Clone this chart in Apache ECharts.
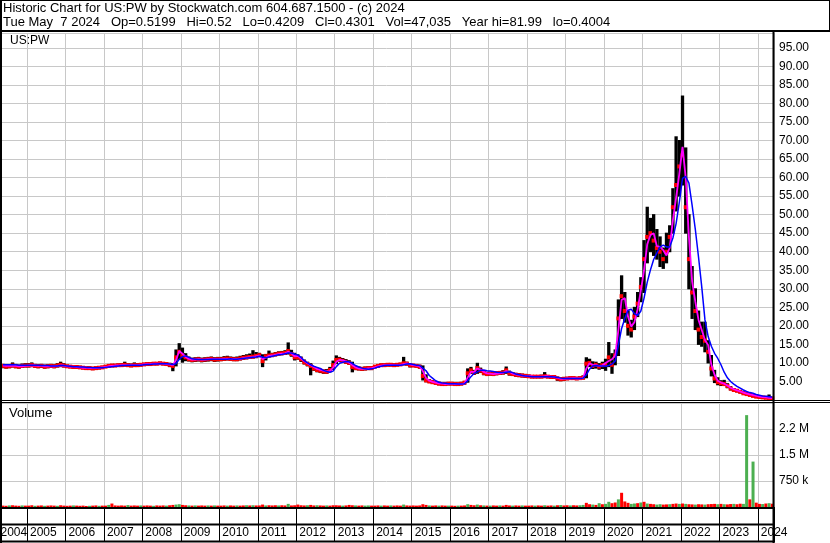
<!DOCTYPE html>
<html>
<head>
<meta charset="utf-8">
<title>US:PW historic chart</title>
<script src="https://cdn.jsdelivr.net/npm/echarts@6/dist/echarts.min.js"></script>
<style>
  html, body { margin: 0; padding: 0; background: #fff; }
  #chart { width: 830px; height: 543px; }
</style>
</head>
<body>
<div id="chart"></div>
<script>
// monthly bars, first month is May 2004
const firstYear = 2004, firstMonth = 5

const closes = [
  9.2, 9.0, 9.1, 9.3, 9.1, 9.0, 9.2, 9.3,                         // 2004
  9.3, 9.4, 9.2, 9.1, 9.2, 9.0, 9.1, 9.2, 9.1, 9.3, 9.5, 9.3,     // 2005
  9.1, 9.0, 8.9, 8.9, 8.8, 8.7, 8.6, 8.6, 8.5, 8.6, 8.7, 8.8,     // 2006
  9.0, 9.2, 9.3, 9.3, 9.4, 9.4, 9.5, 9.4, 9.3, 9.4, 9.4, 9.5,     // 2007
  9.6, 9.7, 9.7, 9.8, 9.8, 9.9, 9.8, 9.7, 9.5, 9.2, 11.5, 13.0,   // 2008
  12.0, 11.5, 11.0, 10.8, 10.9, 11.0, 10.8, 10.9, 11.0, 11.1, 10.9, 11.0, // 2009
  11.0, 11.1, 11.2, 11.1, 11.0, 11.0, 11.2, 11.4, 11.5, 11.6, 11.7, 11.9, // 2010
  12.1, 10.5, 11.8, 12.0, 12.1, 12.3, 12.5, 12.6, 12.7, 13.2, 12.4, 11.5, // 2011
  11.5, 11.0, 10.2, 9.7, 9.2, 8.5, 8.1, 7.9, 7.7, 7.6, 8.1, 9.4,  // 2012
  10.8, 10.9, 10.6, 10.3, 10.0, 8.9, 8.6, 8.5, 8.4, 8.5, 8.6, 8.6, // 2013
  9.0, 9.2, 9.4, 9.4, 9.5, 9.5, 9.4, 9.5, 9.6, 9.9, 9.8, 9.4,     // 2014
  9.3, 9.2, 9.0, 6.5, 5.3, 5.0, 4.8, 4.6, 4.4, 4.3, 4.3, 4.4,     // 2015
  4.4, 4.3, 4.3, 4.4, 4.7, 7.2, 8.0, 7.4, 8.6, 7.9, 7.3, 7.0,     // 2016
  7.1, 7.0, 7.2, 7.3, 7.4, 8.0, 7.2, 7.0, 6.8, 6.7, 6.6, 6.5,     // 2017
  6.4, 6.3, 6.3, 6.3, 6.3, 6.4, 6.3, 6.2, 6.2, 5.8, 5.6, 5.7,     // 2018
  5.8, 5.9, 5.9, 5.8, 5.9, 6.0, 9.8, 10.0, 9.2, 9.5, 9.0, 9.4,    // 2019
  9.5, 11.5, 9.5, 12.0, 22.0, 28.0, 24.0, 20.0, 19.0, 22.5, 26.0, 30.5, // 2020
  38, 44, 45, 43, 41, 40, 38, 40, 44, 52, 58, 63,                 // 2021
  66, 52, 38, 29, 24, 19, 17, 16, 13, 8.5, 5.8, 4.8,              // 2022
  4.5, 4.3, 3.8, 3.1, 2.7, 2.5, 2.2, 1.8, 1.6, 1.35, 1.1, 0.9,    // 2023
  0.8, 0.7, 0.6, 0.55, 0.43                                       // 2024
]

const highs = [
  9.6, 9.5, 9.5, 10.0, 9.6, 9.4, 9.7, 9.8,
  9.8, 10.0, 9.6, 9.5, 9.6, 9.4, 9.5, 9.6, 9.5, 9.8, 10.2, 9.8,
  9.4, 9.3, 9.2, 9.2, 9.1, 9.0, 8.9, 8.9, 8.8, 8.9, 9.0, 9.1,
  9.3, 9.5, 9.6, 9.6, 9.7, 9.8, 10.2, 9.8, 9.7, 10.0, 9.8, 9.8,
  9.9, 10.0, 10.0, 10.1, 10.1, 10.2, 10.1, 10.0, 9.9, 9.8, 13.5, 15.2,
  14.0, 12.5, 11.6, 11.3, 11.4, 11.5, 11.3, 11.4, 11.5, 11.6, 11.4, 11.5,
  11.5, 11.7, 11.8, 11.6, 11.5, 11.6, 11.8, 12.0, 12.2, 12.4, 13.3, 12.8,
  12.6, 12.2, 12.3, 13.2, 12.6, 12.8, 13.0, 13.1, 13.3, 15.4, 13.4, 12.6,
  12.2, 11.6, 10.8, 10.2, 9.8, 9.0, 8.6, 8.3, 8.1, 8.2, 8.8, 10.5,
  11.9, 11.5, 11.2, 10.9, 10.6, 10.2, 9.0, 8.9, 8.8, 8.9, 9.0, 9.0,
  9.3, 9.5, 9.7, 9.7, 9.8, 9.8, 9.7, 9.8, 9.9, 11.5, 10.2, 9.8,
  9.6, 9.5, 9.4, 9.2, 6.8, 5.5, 5.2, 5.0, 4.8, 4.6, 4.6, 4.7,
  4.6, 4.5, 4.5, 4.6, 5.0, 8.4, 8.8, 8.0, 9.9, 8.6, 7.8, 7.5,
  7.5, 7.4, 7.6, 7.7, 7.9, 8.9, 7.8, 7.4, 7.2, 7.1, 7.0, 6.9,
  6.7, 6.6, 6.6, 6.6, 6.7, 7.4, 6.6, 6.5, 6.5, 6.2, 6.0, 6.1,
  6.1, 6.2, 6.2, 6.1, 6.2, 6.5, 11.4, 11.0, 10.3, 10.2, 9.8, 10.2,
  11.0, 15.5, 12.5, 13.5, 27.0, 33.5, 29.0, 24.0, 21.5, 25.0, 29.0, 33.0,
  43, 52, 49, 50, 46, 44, 41, 45, 47, 57, 71, 70,
  82, 68, 50, 36, 30, 24, 21, 21, 16, 12, 8, 6,
  5.2, 5.3, 4.4, 3.6, 3.1, 2.8, 2.5, 2.2, 1.9, 1.6, 1.4, 1.2,
  1.0, 0.9, 0.8, 1.35, 0.6
]

const lows = [
  8.7, 8.6, 8.7, 8.9, 8.7, 8.6, 8.8, 8.9,
  8.9, 9.0, 8.8, 8.7, 8.8, 8.6, 8.7, 8.8, 8.7, 8.9, 9.0, 8.9,
  8.8, 8.7, 8.6, 8.6, 8.5, 8.4, 8.3, 8.3, 8.2, 8.3, 8.4, 8.5,
  8.8, 8.9, 9.0, 9.0, 9.1, 9.1, 9.2, 9.1, 9.0, 9.1, 9.1, 9.2,
  9.3, 9.4, 9.4, 9.5, 9.5, 9.6, 9.5, 9.4, 9.0, 7.9, 9.2, 11.0,
  10.2, 10.6, 10.5, 10.3, 10.4, 10.5, 10.3, 10.4, 10.5, 10.6, 10.4, 10.5,
  10.6, 10.7, 10.8, 10.7, 10.6, 10.6, 10.8, 11.0, 11.1, 11.2, 11.3, 11.4,
  11.7, 9.0, 10.8, 11.6, 11.7, 11.9, 12.1, 12.2, 12.3, 12.4, 11.8, 10.8,
  11.0, 10.4, 9.7, 9.2, 6.8, 8.0, 7.6, 7.4, 7.2, 7.2, 7.6, 8.2,
  9.8, 10.4, 10.2, 9.9, 9.6, 7.6, 8.2, 8.1, 8.0, 8.1, 8.2, 8.2,
  8.7, 8.9, 9.1, 9.1, 9.2, 9.2, 9.1, 9.2, 9.3, 9.5, 9.4, 8.9,
  9.0, 8.9, 8.6, 5.4, 4.9, 4.7, 4.5, 4.3, 4.1, 4.0, 4.0, 4.1,
  4.1, 4.0, 4.0, 4.1, 4.3, 4.8, 7.2, 6.9, 7.2, 7.4, 6.8, 6.6,
  6.7, 6.6, 6.8, 6.9, 7.0, 7.2, 6.7, 6.6, 6.4, 6.3, 6.2, 6.1,
  6.1, 6.0, 6.0, 6.0, 6.0, 6.1, 6.0, 5.9, 5.8, 5.3, 5.2, 5.3,
  5.5, 5.6, 5.6, 5.5, 5.6, 5.7, 6.0, 9.0, 8.5, 8.6, 8.3, 8.5,
  8.0, 9.0, 7.2, 9.5, 12.0, 22.0, 21.0, 17.5, 17.0, 19.0, 22.5, 26.5,
  29, 37, 40, 39, 38, 36, 35.5, 37, 40, 45, 51, 55,
  58, 45, 30, 22, 19, 15, 14.5, 13, 10, 6.5, 4.7, 4.1,
  3.9, 3.9, 3.3, 2.7, 2.4, 2.2, 1.9, 1.6, 1.4, 1.2, 1.0, 0.8,
  0.7, 0.6, 0.5, 0.5, 0.42
]

// magenta (short) and blue (long) moving averages as drawn
const maFast = [
  9.3, 9.2, 9.2, 9.2, 9.2, 9.1, 9.1, 9.2,
  9.3, 9.3, 9.3, 9.2, 9.2, 9.1, 9.1, 9.1, 9.1, 9.2, 9.3, 9.3,
  9.1, 9.0, 9.0, 8.9, 8.8, 8.7, 8.7, 8.6, 8.6, 8.6, 8.7, 8.8,
  8.9, 9.1, 9.2, 9.3, 9.3, 9.4, 9.4, 9.4, 9.4, 9.4, 9.4, 9.5,
  9.6, 9.7, 9.7, 9.8, 9.8, 9.8, 9.8, 9.7, 9.6, 9.4, 10.8, 13.2,
  12.5, 11.6, 11.1, 10.9, 10.9, 11.0, 10.9, 10.9, 11.0, 11.0, 11.0, 11.0,
  11.0, 11.1, 11.1, 11.1, 11.0, 11.0, 11.1, 11.3, 11.4, 11.5, 11.6, 11.8,
  12.0, 11.0, 11.4, 11.9, 12.0, 12.2, 12.4, 12.5, 12.6, 13.0, 12.6, 11.8,
  11.9, 11.2, 10.5, 9.9, 9.4, 8.9, 8.4, 8.1, 7.9, 7.7, 7.8, 8.7,
  10.3, 10.8, 10.7, 10.4, 10.1, 9.4, 8.8, 8.5, 8.4, 8.4, 8.5, 8.6,
  8.8, 9.1, 9.3, 9.4, 9.4, 9.5, 9.4, 9.4, 9.5, 9.7, 9.9, 9.6,
  9.4, 9.3, 9.1, 7.8, 5.9, 5.2, 4.9, 4.7, 4.5, 4.4, 4.3, 4.3,
  4.4, 4.3, 4.3, 4.3, 4.5, 6.1, 7.6, 7.6, 8.5, 8.2, 7.6, 7.2,
  7.1, 7.0, 7.1, 7.2, 7.3, 7.8, 7.6, 7.1, 6.9, 6.7, 6.6, 6.5,
  6.4, 6.4, 6.3, 6.3, 6.3, 6.4, 6.4, 6.3, 6.2, 6.0, 5.7, 5.7,
  5.8, 5.8, 5.9, 5.8, 5.8, 5.9, 8.5, 9.9, 9.5, 9.4, 9.2, 9.3,
  10.0, 10.5, 11.0, 12.0, 19.0, 27.0, 27.5, 22.5, 19.8, 21.0, 24.5, 29.5,
  35, 42, 44.5, 45, 41.5, 41.3, 40.4, 39, 41, 48.5, 54.5, 61,
  68.3, 60, 44, 32, 26.5, 21.6, 18.9, 16.2, 14.8, 9.5, 6.8, 5.2,
  4.7, 4.4, 3.9, 3.3, 2.9, 2.6, 2.3, 2.0, 1.7, 1.5, 1.3, 1.1,
  0.9, 0.8, 0.7, 0.6, 0.5
]

const maSlow = [
  9.5, 9.5, 9.5, 9.5, 9.5, 9.4, 9.4, 9.4,
  9.4, 9.4, 9.4, 9.4, 9.3, 9.3, 9.3, 9.2, 9.2, 9.2, 9.3, 9.3,
  9.2, 9.1, 9.0, 9.0, 8.9, 8.9, 8.8, 8.8, 8.7, 8.7, 8.7, 8.7,
  8.8, 8.9, 9.0, 9.1, 9.2, 9.3, 9.3, 9.4, 9.4, 9.4, 9.4, 9.4,
  9.5, 9.6, 9.6, 9.7, 9.7, 9.8, 9.8, 9.8, 9.7, 9.6, 9.8, 11.0,
  11.7, 11.9, 11.5, 11.1, 11.0, 10.9, 10.9, 10.9, 10.9, 11.0, 11.0, 11.0,
  11.0, 11.0, 11.0, 11.1, 11.0, 11.0, 11.1, 11.2, 11.3, 11.4, 11.5, 11.6,
  11.8, 11.6, 11.4, 11.6, 11.8, 12.0, 12.2, 12.3, 12.5, 12.7, 12.7, 12.4,
  12.1, 11.5, 10.6, 10.0, 9.5, 9.1, 8.8, 8.5, 8.0, 7.7, 7.5, 7.8,
  9.0, 9.9, 10.2, 10.4, 10.3, 9.9, 9.3, 8.9, 8.6, 8.4, 8.3, 8.4,
  8.6, 8.9, 9.1, 9.3, 9.4, 9.4, 9.4, 9.4, 9.4, 9.5, 9.7, 9.8,
  9.6, 9.4, 9.3, 8.6, 7.9, 6.6, 5.9, 5.2, 4.8, 4.6, 4.5, 4.4,
  4.4, 4.4, 4.3, 4.3, 4.4, 5.2, 6.3, 7.2, 7.6, 8.0, 8.1, 7.9,
  7.8, 7.7, 7.5, 7.4, 7.4, 7.5, 7.6, 7.4, 7.0, 6.8, 6.6, 6.5,
  6.4, 6.3, 6.3, 6.3, 6.3, 6.3, 6.3, 6.3, 6.2, 6.1, 5.9, 5.8,
  5.8, 5.8, 5.8, 5.8, 5.8, 5.9, 6.8, 8.3, 9.2, 9.3, 9.2, 9.2,
  9.1, 9.3, 9.7, 10.5, 14.8, 19.3, 22.0, 24.2, 24.5, 23.3, 22.8, 24.0,
  27.5, 31.8, 35.1, 37.9, 39.6, 41.3, 41.8, 41.3, 41.3, 43.7, 47.6, 53.3,
  59.8, 60.3, 58.5, 52.5, 46, 38.5, 30.5, 21.6, 17.1, 14.5, 12.6, 11.2,
  9.5, 7.5, 6.0, 5.0, 4.3, 3.7, 3.2, 2.7, 2.3, 2.0, 1.8, 1.5,
  1.3, 1.1, 1.0, 0.9, 0.8
]

// volume in thousands of shares
const volumesK = [
  40, 35, 45, 50, 40, 35, 45, 40,
  40, 50, 35, 40, 45, 35, 40, 45, 40, 35, 50, 40,
  35, 40, 45, 40, 35, 40, 30, 35, 40, 45, 35, 40,
  40, 60, 100, 45, 40, 45, 40, 55, 40, 45, 40, 45,
  40, 45, 40, 35, 45, 40, 45, 40, 50, 60, 70, 80,
  60, 50, 45, 40, 45, 40, 45, 40, 45, 40, 45, 40,
  40, 45, 40, 45, 40, 45, 40, 45, 50, 45, 50, 45,
  45, 70, 45, 50, 45, 50, 45, 50, 45, 90, 45, 50,
  70, 50, 45, 50, 60, 45, 50, 45, 40, 45, 40, 50,
  50, 45, 40, 45, 60, 50, 45, 40, 45, 40, 45, 40,
  40, 45, 40, 45, 40, 45, 40, 45, 40, 70, 45, 40,
  45, 40, 45, 80, 60, 45, 40, 45, 40, 45, 40, 40,
  40, 35, 40, 40, 45, 80, 60, 50, 70, 50, 45, 40,
  40, 45, 40, 45, 40, 60, 45, 40, 45, 40, 45, 40,
  40, 45, 40, 45, 40, 50, 40, 45, 40, 50, 55, 45,
  50, 45, 50, 45, 50, 60, 120, 80, 70, 60, 110, 80,
  90, 150, 110, 130, 220, 410, 160, 120, 90, 100, 110, 130,
  150, 100, 90, 80, 70, 80, 70, 75, 80, 90, 100, 90,
  100, 90, 80, 75, 70, 80, 75, 70, 80, 85, 90, 80,
  90, 80, 75, 85, 90, 80, 95, 90, 2650, 220, 1310, 125,
  90, 85, 100, 110, 95
]

// u = up month (green volume), d = down month (red volume)
const volDir = [
  'ddudddud',
  'dduddudddudd', 'ddudddduddud', 'dudddddudddu', 'dddudddudduu',
  'ddududddudud', 'ddudduddudud', 'dduddduddudd', 'dddudduddudd',
  'ddudddudduud', 'dduddudddudd', 'dddddudduddu', 'ddudduddudud',
  'udduddduddud', 'ddudduddudud', 'dudduuddudud', 'uudduddduudu',
  'dudduudduddu', 'dudduddudddu', 'duddudduudud',
  'dudud'
].join('')

const priceTicks = [5, 10, 15, 20, 25, 30, 35, 40, 45, 50, 55, 60, 65, 70, 75, 80, 85, 90, 95]
const volumeTickLabels = { 750000: '750 k', 1500000: '1.5 M', 2250000: '2.2 M' }

const headerLine1 = 'Historic Chart for US:PW by Stockwatch.com 604.687.1500 - (c) 2024'
const headerLine2 = 'Tue May  7 2024   Op=0.5199   Hi=0.52   Lo=0.4209   Cl=0.4301   Vol=47,035   Year hi=81.99   lo=0.4004'

const months = closes.map((_, i) => {
  const m = firstMonth - 1 + i
  return (firstYear + Math.floor(m / 12)) + '-' + String(m % 12 + 1).padStart(2, '0')
})
function monthPos(key) {
  const parts = key.split('-').map(Number)
  return parts[0] + (parts[1] - 0.5) / 12
}

const FONT = '"Liberation Sans", Arial, sans-serif'
const GRID_COLOR = '#c8c8c8'
const xMin = 2004, xMax = 2024.42

const chart = echarts.init(document.getElementById('chart'))

function frameLine(x1, y1, x2, y2, w) {
  return {
    type: 'line', z: 100, silent: true,
    shape: { x1: x1, y1: y1, x2: x2, y2: y2 },
    style: { stroke: '#000', lineWidth: w }
  }
}
function label(text, x, y, size) {
  return {
    type: 'text', x: x, y: y, z: 100, silent: true,
    style: { text: text, font: size + 'px ' + FONT, fill: '#000', verticalAlign: 'middle' }
  }
}

const option = {
  animation: false,
  backgroundColor: '#fff',
  grid: [
    { left: -11.5, right: 56, top: 33, height: 367, outerBoundsMode: 'none', containLabel: false },
    { left: -11.5, right: 56, top: 403, height: 104, outerBoundsMode: 'none', containLabel: false }
  ],
  xAxis: [
    {
      gridIndex: 0, type: 'value', min: xMin, max: xMax, interval: 1,
      axisLine: { show: false }, axisTick: { show: false }, axisLabel: { show: false },
      splitLine: { show: true, lineStyle: { color: GRID_COLOR, width: 1 } }
    },
    {
      gridIndex: 1, type: 'value', min: xMin, max: xMax, interval: 1,
      axisLine: { show: false },
      axisTick: { show: true, length: 34, lineStyle: { color: '#000', width: 1 } },
      axisLabel: {
        show: true, margin: 20, align: 'left', padding: [0, 0, 0, 3],
        color: '#000', fontFamily: FONT, fontSize: 12,
        formatter: v => {
          if (Math.abs(v - Math.round(v)) > 1e-6) return ''
          return v === firstYear ? '{first|' + v + '}' : String(Math.round(v))
        },
        rich: { first: { padding: [0, 0, 0, 9], color: '#000', fontFamily: FONT, fontSize: 12 } }
      },
      splitLine: { show: true, lineStyle: { color: GRID_COLOR, width: 1 } }
    }
  ],
  yAxis: [
    {
      gridIndex: 0, type: 'value', position: 'right', min: 0, max: 99, interval: 5,
      axisLine: { show: false }, axisTick: { show: false },
      axisLabel: {
        margin: 5, color: '#000', fontFamily: FONT, fontSize: 12,
        formatter: v => priceTicks.indexOf(v) >= 0 ? v.toFixed(2) : ''
      },
      splitLine: { show: true, lineStyle: { color: GRID_COLOR, width: 1 } }
    },
    {
      gridIndex: 1, type: 'value', position: 'right', min: 0, max: 3000000, interval: 750000,
      axisLine: { show: false }, axisTick: { show: false },
      axisLabel: {
        margin: 5, color: '#000', fontFamily: FONT, fontSize: 12,
        formatter: v => volumeTickLabels[v] || ''
      },
      splitLine: { show: true, lineStyle: { color: GRID_COLOR, width: 1 } }
    }
  ],
  series: [
    {
      name: 'US:PW', type: 'custom', xAxisIndex: 0, yAxisIndex: 0,
      data: months.map((k, i) => [monthPos(k), lows[i], highs[i], closes[i]]),
      encode: { x: 0, y: [1, 2, 3] },
      renderItem: (params, api) => {
        const x = api.value(0)
        const lo = api.coord([x, api.value(1)])
        const hi = api.coord([x, api.value(2)])
        const cl = api.coord([x, api.value(3)])
        return {
          type: 'group',
          children: [
            { type: 'line', shape: { x1: lo[0], y1: lo[1] + 0.5, x2: hi[0], y2: hi[1] - 0.5 }, style: { stroke: '#000', lineWidth: 3.3 } },
            { type: 'rect', shape: { x: cl[0] - 2, y: cl[1] - 2, width: 4, height: 4 }, style: { fill: '#ff0000' } }
          ]
        }
      }
    },
    {
      name: 'MA short', type: 'line', xAxisIndex: 0, yAxisIndex: 0,
      data: months.map((k, i) => [monthPos(k), maFast[i]]),
      symbol: 'none', lineStyle: { color: '#ff00ff', width: 1.8 }, z: 3
    },
    {
      name: 'MA long', type: 'line', xAxisIndex: 0, yAxisIndex: 0,
      data: months.map((k, i) => [monthPos(k), maSlow[i]]),
      symbol: 'none', lineStyle: { color: '#0000ff', width: 1.5 }, z: 4
    },
    {
      name: 'Volume', type: 'bar', xAxisIndex: 1, yAxisIndex: 1, barWidth: 3,
      data: months.map((k, i) => ({
        value: [monthPos(k), volumesK[i] * 1000],
        itemStyle: { color: volDir[i] === 'u' ? '#4caf50' : '#ff0000' }
      }))
    }
  ],
  graphic: {
    elements: [
      label(headerLine1, 3, 8, 13),
      label(headerLine2, 3, 22, 13),
      label('US:PW', 10, 41, 12),
      label('Volume', 9, 413, 13),
      // header box
      frameLine(0, 0.5, 830, 0.5, 1),
      frameLine(829.5, 0, 829.5, 32, 1),
      frameLine(0, 31, 830, 31, 2),
      frameLine(1, 0, 1, 543, 2),
      // panel separators
      frameLine(0, 400.5, 830, 400.5, 1),
      frameLine(0, 402.5, 830, 402.5, 1),
      frameLine(0, 508, 775, 508, 2),
      frameLine(0, 524.5, 775, 524.5, 2),
      frameLine(0, 541.5, 775, 541.5, 2),
      frameLine(773.5, 32, 773.5, 543, 2)
    ]
  }
}

chart.setOption(option)
</script>
</body>
</html>
